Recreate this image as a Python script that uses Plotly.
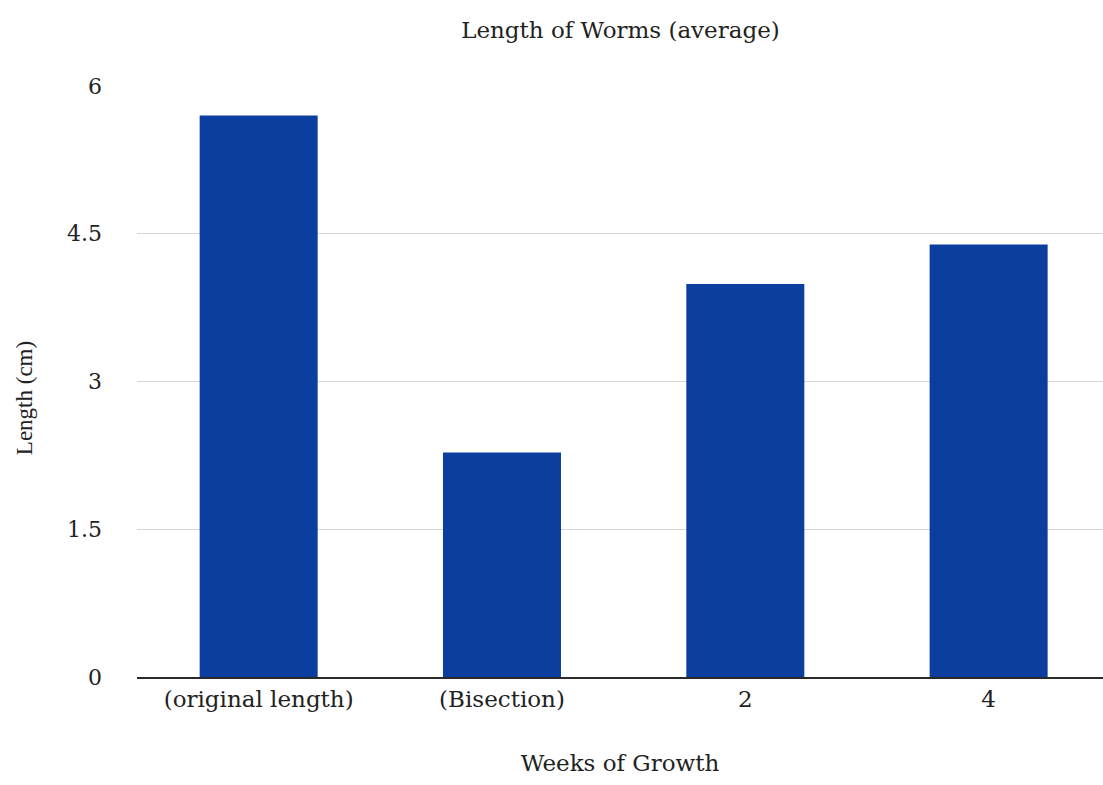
import plotly.graph_objects as go

# Average worm length per stage of growth
categories = ["(original length)", "(Bisection)", "2", "4"]
lengths_cm = [5.70, 2.28, 3.99, 4.39]
y_ticks = [0, 1.5, 3, 4.5, 6]

wide_serif = "DejaVu Serif, serif"
serif = "Liberation Serif, Times New Roman, serif"
ink = "#222222"

fig = go.Figure(
    go.Bar(
        x=categories,
        y=lengths_cm,
        marker=dict(color="#0c3e9f", line=dict(width=0)),
        hoverinfo="x+y",
    )
)

fig.update_layout(
    width=1103,
    height=785,
    margin=dict(l=137, r=0, t=85, b=108),
    paper_bgcolor="white",
    plot_bgcolor="white",
    bargap=0.515,
    showlegend=False,
    font=dict(family=wide_serif, color=ink),
    title=dict(
        text="Length of Worms (average)",
        x=0.5625,
        xanchor="center",
        y=0.962,
        yanchor="middle",
        font=dict(family=wide_serif, size=23, color=ink),
    ),
    annotations=[
        dict(
            text="Length (cm)",
            xref="paper",
            yref="paper",
            x=-0.117,
            y=0.471,
            xanchor="center",
            yanchor="middle",
            textangle=-90,
            showarrow=False,
            font=dict(family=serif, size=23, color=ink),
        )
    ],
)

fig.update_xaxes(
    type="category",
    range=[-0.5, 3.47],
    showgrid=False,
    showline=True,
    linecolor="#2a2a2a",
    linewidth=2,
    ticks="",
    tickfont=dict(family=wide_serif, size=23, color=ink),
    title=dict(
        text="Weeks of Growth",
        font=dict(family=wide_serif, size=23, color=ink),
        standoff=44,
    ),
)

fig.update_yaxes(
    range=[0, 6.01],
    tickvals=y_ticks,
    ticktext=[f"{v:g}" for v in y_ticks],
    showgrid=True,
    gridcolor="#d6d6d6",
    gridwidth=1,
    zeroline=False,
    showline=False,
    ticks="",
    ticklabelstandoff=34,
    tickfont=dict(family=wide_serif, size=22, color=ink),
)

fig.write_html("out.html")
